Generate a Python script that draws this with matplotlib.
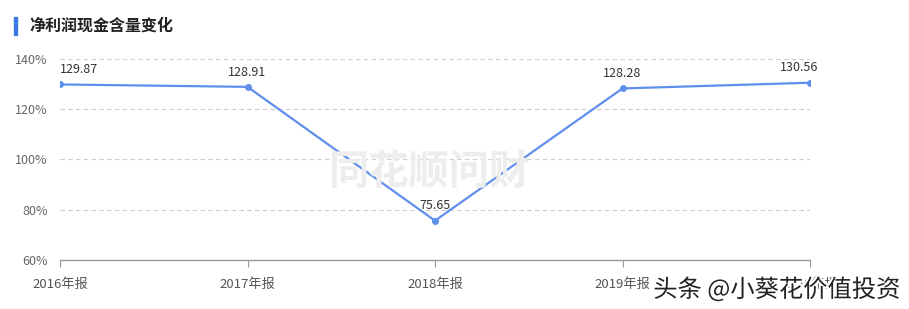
import matplotlib.pyplot as plt
import matplotlib.patheffects as pe

plt.rcParams['font.family'] = ['Noto Sans CJK SC', 'DejaVu Sans']

# data
periods = ['2016年报', '2017年报', '2018年报', '2019年报', '2020年报']
ratio = [129.87, 128.91, 75.65, 128.28, 130.56]
y_ticks = [60, 80, 100, 120, 140]

W, H = 909, 309
fig = plt.figure(figsize=(W / 100, H / 100), dpi=100)
ax = fig.add_axes([60 / W, 1 - 260 / H, 750 / W, 201 / H])

xs = list(range(len(periods)))
line_col = '#5f8fec'
ax.plot(xs, ratio, color=line_col, lw=1.6, marker='o', ms=4,
        markerfacecolor=line_col, markeredgecolor=line_col, zorder=4)
n = len(xs)
for x, v in zip(xs, ratio):
    if x == 0:
        ha, dx = 'left', 0
    elif x == n - 1:
        ha, dx = 'center', -8
    else:
        ha, dx = 'center', 0
    ax.annotate(f'{v:.2f}', (x, v), xytext=(dx, 6), textcoords='offset points',
                ha=ha, va='bottom', fontsize=9, color='#333333', zorder=5)

ax.set_xlim(0, n - 1)
ax.set_ylim(60, 140)
ax.set_yticks(y_ticks)
ax.set_yticklabels([f'{t}%' for t in y_ticks])
ax.set_xticks(xs)
ax.set_xticklabels(periods)
ax.tick_params(axis='y', length=0, pad=9, labelsize=9, labelcolor='#666666')
ax.tick_params(axis='x', length=5, width=0.8, color='#999999', pad=8,
               labelsize=9.5, labelcolor='#555555')
for t in y_ticks[1:]:
    ax.axhline(t, color='#cccccc', lw=0.8, ls=(0, (4, 3)), zorder=1)
for s in ['top', 'right', 'left']:
    ax.spines[s].set_visible(False)
ax.spines['bottom'].set_color('#999999')
ax.spines['bottom'].set_linewidth(1.0)
ax.patch.set_alpha(0)

# title with blue bar
fig.patches.append(plt.Rectangle((14 / W, 1 - 35 / H), 3 / W, 18 / H,
                                 transform=fig.transFigure, color='#3a78e6'))
fig.text(29 / W, 1 - 26 / H, '净利润现金含量变化', fontsize=11.5,
         fontweight='bold', color='#222222', va='center', ha='left')

# watermarks
fig.text(430 / W, 1 - 172 / H, '同花顺问财', fontsize=29, fontweight='bold',
         color='#ededed', ha='center', va='center', zorder=0)
fig.text(900 / W, 1 - 290 / H, '头条 @小葵花价值投资', fontsize=17.5,
         color='#222222', ha='right', va='center', zorder=10,
         path_effects=[pe.withStroke(linewidth=3, foreground='white')])

fig.savefig('out.png', dpi=100)
